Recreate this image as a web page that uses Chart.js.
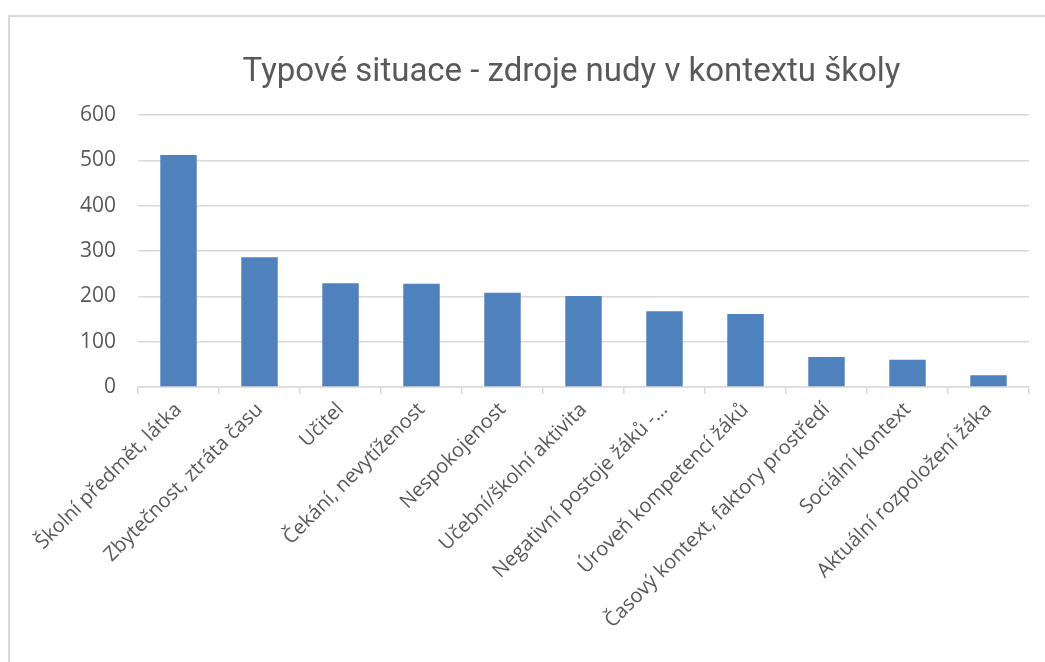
<!DOCTYPE html>
<html>
<head>
<meta charset="utf-8">
<script src="https://cdn.jsdelivr.net/npm/chart.js@4"></script>
<style>
  html, body { margin: 0; padding: 0; background: #fff; overflow: hidden; }
  #ramecek {
    position: absolute; left: 8px; top: 15px;
    width: 1100px; height: 700px;
    border: 2px solid #d9d9d9; box-sizing: border-box;
  }
  #obal { position: absolute; left: 0; top: 0; width: 1045px; height: 662px; }
</style>
</head>
<body>
<div id="ramecek"></div>
<div id="obal"><canvas id="graficoNuda"></canvas></div>
<script>
const nadpis = "Typové situace - zdroje nudy v kontextu školy";
const kategorie = [
  "Školní předmět, látka",
  "Zbytečnost, ztráta času",
  "Učitel",
  "Čekání, nevytíženost",
  "Nespokojenost",
  "Učební/školní aktivita",
  "Negativní postoje žáků -…",
  "Úroveň kompetencí žáků",
  "Časový kontext, faktory prostředí",
  "Sociální kontext",
  "Aktuální rozpoložení žáka",
];
const hodnoty = [512, 286, 229, 228, 208, 201, 167, 161, 66, 60, 26];
const osaY = [0, 100, 200, 300, 400, 500, 600];

// nadpis jako v Excelu - trochu vlevo od středu plochy grafu
const nadpisPlugin = {
  id: "nadpis",
  afterDraw(chart) {
    const c = chart.ctx;
    const area = chart.chartArea;
    c.save();
    c.fillStyle = "#595959";
    c.font = "33px Roboto";
    c.textAlign = "center";
    c.textBaseline = "middle";
    c.fillText(nadpis, (area.left + area.right) / 2 - 12, 73);
    c.restore();
  },
};

const ctxNuda = document.getElementById("graficoNuda");

new Chart(ctxNuda, {
  type: "bar",
  data: {
    labels: kategorie,
    datasets: [
      {
        label: "Počet",
        data: hodnoty,
        backgroundColor: "#4f81bd",
        barPercentage: 0.45,
        categoryPercentage: 1,
      },
    ],
  },
  plugins: [nadpisPlugin],
  options: {
    responsive: true,
    maintainAspectRatio: false,
    animation: false,
    layout: {
      padding: { left: 58, right: 16, top: 115, bottom: 25 },
    },
    plugins: {
      legend: {
        display: false,
      },
      tooltip: { enabled: false },
      title: {
        display: false,
      },
    },
    scales: {
      x: {
        grid: {
          offset: true,
          drawOnChartArea: false,
          drawTicks: true,
          tickLength: 7,
          color: "#d9d9d9",
          lineWidth: 1.5,
        },
        border: { color: "#d9d9d9", width: 1.5 },
        ticks: {
          color: "#595959",
          font: { family: "Open Sans", size: 20 },
          maxRotation: 45,
          minRotation: 45,
          autoSkip: false,
          padding: 4,
        },
      },
      y: {
        min: 0,
        max: 600,
        afterBuildTicks: (osa) => {
          osa.ticks = osaY.map((v) => ({ value: v }));
        },
        grid: {
          color: "#d9d9d9",
          lineWidth: 1.5,
          drawTicks: false,
        },
        border: { display: false },
        ticks: {
          color: "#595959",
          font: { family: "Open Sans", size: 21 },
          padding: 22,
        },
      },
    },
  },
});
</script>
</body>
</html>
